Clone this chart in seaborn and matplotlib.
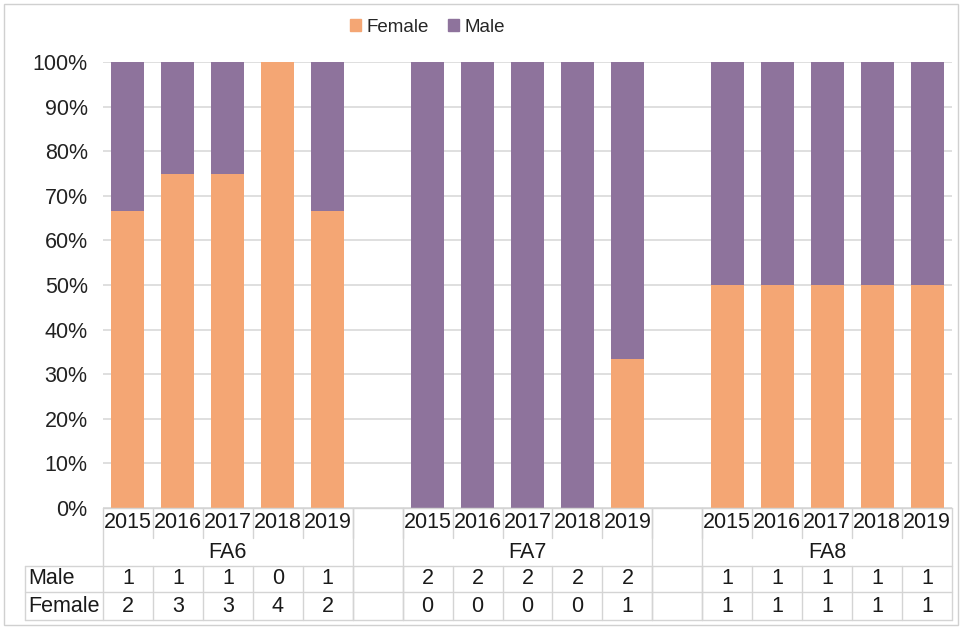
import pandas as pd
import matplotlib.pyplot as plt
import seaborn as sns
from matplotlib.transforms import blended_transform_factory
from matplotlib.lines import Line2D
from matplotlib.patches import Patch, Rectangle

# data
groups = ["FA6", "FA7", "FA8"]
years = ["2015", "2016", "2017", "2018", "2019"]
male = [1, 1, 1, 0, 1, 2, 2, 2, 2, 2, 1, 1, 1, 1, 1]
female = [2, 3, 3, 4, 2, 0, 0, 0, 0, 1, 1, 1, 1, 1, 1]
yticks = [0, 10, 20, 30, 40, 50, 60, 70, 80, 90, 100]

female_col = "#F4A674"
male_col = "#8E739C"
grid_col = "#D9D9D9"
line_col = "#D4D4D4"

rows = []
for gi, g in enumerate(groups):
    for yi, yr in enumerate(years):
        k = gi * 5 + yi
        tot = male[k] + female[k]
        rows.append({"key": g + "-" + yr, "group": g, "year": yr,
                     "male": male[k], "female": female[k],
                     "total": 100.0, "female_pct": 100.0 * female[k] / tot})
df = pd.DataFrame(rows)

# category order with an empty slot between groups
order = []
for gi, g in enumerate(groups):
    order += [g + "-" + yr for yr in years]
    if gi < len(groups) - 1:
        order.append("gap%d" % gi)

sns.set_theme(style="white")
plt.rcParams["font.family"] = ["Liberation Sans", "DejaVu Sans"]

fig = plt.figure(figsize=(9.62, 6.28), dpi=100)
ax = fig.add_axes([103 / 962, 1 - 508 / 628, 849 / 962, 446 / 628])

sns.barplot(data=df, x="key", y="total", order=order, color=male_col,
            width=0.66, saturation=1, linewidth=0, edgecolor="none", ax=ax, zorder=2)
sns.barplot(data=df, x="key", y="female_pct", order=order, color=female_col,
            width=0.66, saturation=1, linewidth=0, edgecolor="none", ax=ax, zorder=3)

ax.set_xlim(-0.5, len(order) - 0.5)
ax.set_ylim(0, 100)
ax.set_yticks(yticks)
ax.set_yticklabels(["%d%%" % t for t in yticks], fontsize=15.5, color="#222222")
ax.yaxis.grid(True, color=grid_col, linewidth=1.2, zorder=0)
ax.set_axisbelow(True)
ax.tick_params(axis="y", length=0, pad=11)
ax.set_xticks([])
ax.set_xlabel("")
ax.set_ylabel("")
for s in ["top", "right", "left", "bottom"]:
    ax.spines[s].set_visible(False)

# data table underneath
tr = blended_transform_factory(ax.transData, fig.transFigure)

def fy(p):
    return 1 - p / 628

def fx(p):
    return p / 962

def hline(x0, x1, y, t=tr):
    fig.add_artist(Line2D([x0, x1], [fy(y), fy(y)], transform=t,
                          color=line_col, linewidth=1))

def vline(x, y0, y1, t=tr):
    fig.add_artist(Line2D([x, x], [fy(y0), fy(y1)], transform=t,
                          color=line_col, linewidth=1))

txt_col = "#1a1a1a"
left = -0.5
right = len(order) - 0.5
hline(left, right, 508)

for i, k in enumerate(order):
    if k.startswith("gap"):
        continue
    r = df[df["key"] == k].iloc[0]
    ax.text(i, fy(523), r["year"], transform=tr, ha="center", va="center",
            fontsize=15.5, color=txt_col)
    ax.text(i, fy(579), str(r["male"]), transform=tr, ha="center", va="center",
            fontsize=15.5, color=txt_col)
    ax.text(i, fy(606), str(r["female"]), transform=tr, ha="center", va="center",
            fontsize=15.5, color=txt_col)

# thin separators inside the year row
for i in range(len(order) - 1):
    vline(i + 0.5, 508, 538)

# group labels and their boxes
starts = [order.index(g + "-2015") for g in groups]
for g, s in zip(groups, starts):
    ax.text(s + 2, fy(552), g, transform=tr, ha="center", va="center",
            fontsize=15.5, color=txt_col)
    vline(s - 0.5, 508, 620)
    vline(s + 4.5, 508, 620)

# value rows
tr_left = fig.transFigure
for yy in [566, 592, 620]:
    fig.add_artist(Line2D([fx(25), fx(952)], [fy(yy), fy(yy)], transform=tr_left,
                          color=line_col, linewidth=1))
fig.add_artist(Line2D([fx(25), fx(25)], [fy(566), fy(620)], transform=tr_left,
                      color=line_col, linewidth=1))
for i in range(len(order) - 1):
    vline(i + 0.5, 566, 620)
fig.text(fx(28), fy(579), "Male", ha="left", va="center", fontsize=15.5, color=txt_col)
fig.text(fx(28), fy(606), "Female", ha="left", va="center", fontsize=15.5, color=txt_col)

# legend
handles = [Patch(color=female_col, label="Female"), Patch(color=male_col, label="Male")]
fig.legend(handles=handles, loc="center left", bbox_to_anchor=(fx(350), fy(27)),
           ncol=2, frameon=False, fontsize=13.5, handlelength=0.6, handleheight=0.6,
           handletextpad=0.3, columnspacing=1.0, borderpad=0, borderaxespad=0)

# outer frame
fig.add_artist(Rectangle((fx(4), fy(625)), fx(954), 621 / 628, transform=fig.transFigure,
                         fill=False, edgecolor="#D0D0D0", linewidth=1))

plt.savefig("out.png", dpi=100)
